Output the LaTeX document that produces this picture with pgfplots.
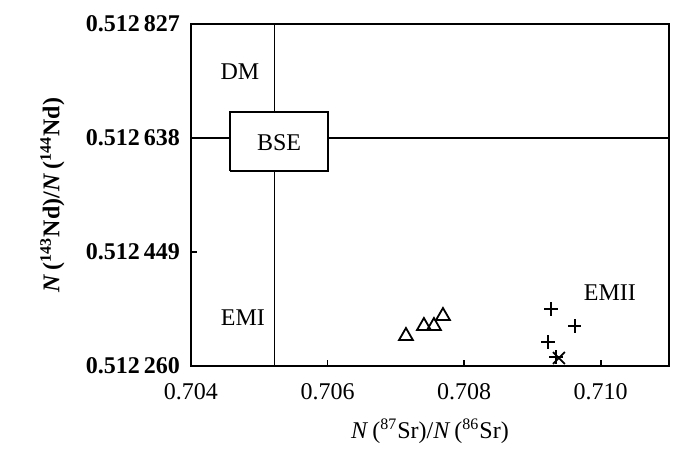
\documentclass[border=0pt]{standalone}
\usepackage{fontspec}
\setmainfont{Liberation Serif}
\usepackage{pgfplots}
\pgfplotsset{compat=1.18}

\newcommand{\lab}{\fontsize{12}{14}\selectfont}

\begin{document}
\begin{tikzpicture}
\useasboundingbox (-95.5pt,-45pt) rectangle (254.5pt,183pt);
\begin{axis}[
    at={(0,0)}, anchor=south west,
    scale only axis,
    width=239pt, height=171pt,
    xmin=0.704, xmax=0.711,
    ymin=0.512260, ymax=0.512827,
    axis line style={line width=1pt},
    tick align=inside,
    xtick pos=bottom, ytick pos=left,
    major tick length=3pt,
    tick style={line width=0.8pt, black},
    xtick={0.704,0.706,0.708,0.710},
    xticklabels={0.704,0.706,0.708,0.710},
    ytick={0.512260,0.512449,0.512638,0.512827},
    yticklabels={0.512\,260,0.512\,449,0.512\,638,0.512\,827},
    x tick label style={font=\lab, yshift=-5pt},
    y tick label style={font=\lab\bfseries, xshift=-2pt},
    xlabel={\textit{N}\,(\textsuperscript{87}Sr)/\textit{N}\,(\textsuperscript{86}Sr)},
    ylabel={\bfseries\textit{N}\,(\textsuperscript{143}Nd)/\textit{N}\,(\textsuperscript{144}Nd)},
    xlabel style={font=\lab, at={(axis description cs:0.5,-0.19)}, anchor=center},
    ylabel style={font=\lab, at={(axis description cs:-0.29,0.5)}, anchor=center},
    clip=false,
]
% reference lines
\addplot[black, line width=0.8pt] coordinates {(0.70522,0.512260) (0.70522,0.512827)};
\addplot[black, line width=0.8pt] coordinates {(0.704,0.512638) (0.711,0.512638)};
% BSE box
\addplot[black, fill=white, line width=0.8pt] coordinates {
  (0.70457,0.512583) (0.70601,0.512583) (0.70601,0.512681) (0.70457,0.512681) (0.70457,0.512583)};

\node[font=\lab] at (axis cs:0.70529,0.512630) {BSE};
\node[font=\lab] at (axis cs:0.704717,0.5127475) {DM};
\node[font=\lab] at (axis cs:0.704761,0.5123396) {EMI};
\node[font=\lab] at (axis cs:0.710135,0.512381) {EMII};

% triangles
\addplot[only marks, mark=triangle, mark size=4pt, mark options={line width=0.9pt}] coordinates {
  (0.707148,0.5123097)
  (0.707411,0.5123263)
  (0.707558,0.5123263)
  (0.707690,0.5123429)
};
% plus
\addplot[only marks, mark=+, mark size=3.3pt, mark options={line width=0.9pt}] coordinates {
  (0.709271,0.5123545)
  (0.709622,0.5123263)
  (0.709227,0.5122998)
  (0.709344,0.5122749)
};
% cross
\addplot[only marks, mark=x, mark size=4.2pt, mark options={line width=0.9pt}] coordinates {
  (0.709388,0.5122733)
};
\end{axis}
\end{tikzpicture}
\end{document}
